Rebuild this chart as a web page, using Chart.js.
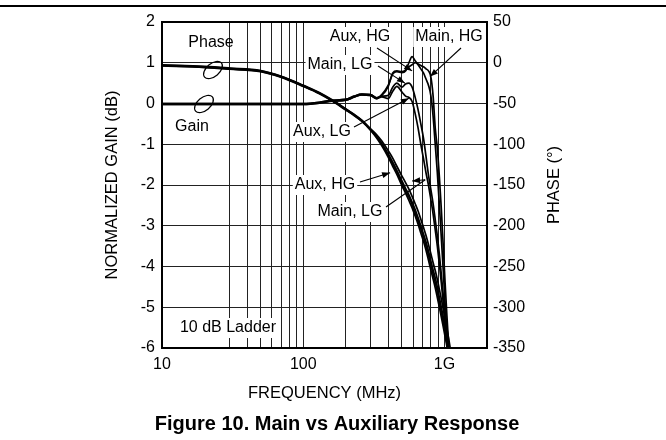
<!DOCTYPE html>
<html>
<head>
<meta charset="utf-8">
<script src="https://cdn.jsdelivr.net/npm/chart.js@4.4.1/dist/chart.umd.min.js"></script>
<style>
  html, body { margin: 0; padding: 0; background: #fff; }
  #wrap { width: 666px; height: 440px; }
</style>
</head>
<body>
<div id="wrap"><canvas id="chart" width="666" height="440"></canvas></div>
<script>
/* ---------- data ---------- */
const freqs = [10, 20, 30, 50, 70, 100, 130, 160, 200, 230, 260, 300, 330, 360, 400, 430, 460, 500, 530, 560,
  590, 620, 650, 680, 710, 740, 770, 800, 830, 860, 890, 920, 950, 980, 1010, 1040, 1070, 1100, 1130];

// normalized gain, dB
const gainMainHG = [0, 0, 0, 0, 0, 0, 0.03, 0.08, 0.1, 0.18, 0.23, 0.22, 0.14, 0.2, 0.42, 0.75, 0.8, 0.78, 0.82, 0.9,
  0.95, 1.0, 0.97, 0.93, 0.9, 0.85, 0.8, 0.66, 0.2, -0.6, -1.1, -1.8, -2.6, -3.5, -4.4, -5.2, -5.9, -6.6, -7.5];
const gainAuxHG = [-0.02, -0.02, -0.02, -0.02, -0.02, -0.02, 0.01, 0.06, 0.08, 0.16, 0.21, 0.2, 0.12, 0.22, 0.45, 0.72, 0.78, 0.76, 0.8, 1.0,
  1.15, 1.05, 0.95, 0.85, 0.75, 0.6, 0.45, 0.2, -0.3, -1.0, -1.7, -2.5, -3.3, -4.1, -4.9, -5.6, -6.3, -7, -8];
const gainMainLG = [0, 0, 0, 0, 0, 0, 0.03, 0.08, 0.1, 0.18, 0.23, 0.22, 0.14, 0.18, 0.2, 0.4, 0.5, 0.4, 0.48, 0.5,
  0.4, 0.15, -0.15, -0.5, -0.85, -1.3, -1.75, -2.1, -2.45, -2.85, -3.25, -3.7, -4.2, -4.7, -5.2, -5.7, -6.2, -6.8, -7.5];
const gainAuxLG = [-0.02, -0.02, -0.02, -0.02, -0.02, -0.02, 0.01, 0.06, 0.08, 0.16, 0.21, 0.2, 0.12, 0.16, 0.12, 0.3, 0.42, 0.28, 0.18, 0.15,
  0.05, -0.25, -0.6, -1.0, -1.35, -1.7, -2.0, -2.35, -2.7, -3.1, -3.5, -3.95, -4.4, -4.9, -5.4, -5.9, -6.4, -7, -7.6];

// phase, degrees
const phaseAuxHG = [-4, -6, -8, -11, -18, -29, -38, -47, -58, -65, -72, -83, -92, -102, -116, -127, -137, -151, -160, -169,
  -178, -188, -198, -209, -219, -230, -242, -254, -265, -276, -288, -300, -312, -324, -336, -348, -360, -374, -388];
const phaseAuxLG = [-3.5, -5.5, -7.5, -10.5, -17.5, -28.5, -37.5, -46.5, -57.5, -64.5, -71.5, -82, -91, -100, -114, -124, -134, -148, -157, -165,
  -174, -184, -194, -204, -214, -225, -236, -248, -259, -270, -281, -294, -306, -318, -330, -342, -354, -368, -382];
const phaseMainHG = [-3, -5, -7, -10, -17, -28, -37, -46, -57, -64, -71, -82, -90, -99, -112, -122, -132, -145, -154, -162,
  -171, -180, -190, -200, -210, -220, -231, -243, -254, -264, -275, -288, -300, -312, -324, -336, -348, -362, -376];
const phaseMainLG = [-2.5, -4.5, -6.5, -9.5, -16.5, -27.5, -36.5, -45.5, -56.5, -63.5, -70.5, -81, -88, -96, -108, -117, -127, -139, -147, -155,
  -164, -173, -182, -192, -202, -212, -223, -234, -245, -255, -266, -278, -290, -302, -314, -326, -338, -351, -365];

// axis ticks
const xGridTicks = [10, 30, 40, 50, 60, 70, 80, 90, 100, 200, 300, 400, 500, 600, 700, 800, 900, 1000, 2000];
const xTickLabels = { 10: "10", 100: "100", 1000: "1G" };

const FONT = '"Liberation Sans", Arial, Helvetica, sans-serif';
const SIZE = 16;
Chart.defaults.font.family = FONT;
Chart.defaults.font.size = SIZE;
Chart.defaults.color = "#000";

function pts(vals) {
  return freqs.map((f, i) => ({ x: f, y: vals[i] }));
}

function line(vals, axis) {
  return {
    data: pts(vals),
    yAxisID: axis,
    borderColor: "#000",
    borderWidth: 1.7,
    pointRadius: 0,
    fill: false,
    cubicInterpolationMode: "monotone"
  };
}

/* ---------- drawing helpers ---------- */
function text(ctx, s, x, y) {
  ctx.font = SIZE + "px " + FONT;
  ctx.textAlign = "center";
  ctx.textBaseline = "middle";
  ctx.fillStyle = "#000";
  ctx.fillText(s, x, y);
}

function arrow(ctx, x1, y1, x2, y2, head) {
  ctx.strokeStyle = "#000";
  ctx.lineWidth = 1.1;
  ctx.beginPath();
  ctx.moveTo(x1, y1);
  ctx.lineTo(x2, y2);
  ctx.stroke();
  if (!head) return;
  const a = Math.atan2(y2 - y1, x2 - x1);
  ctx.fillStyle = "#000";
  ctx.beginPath();
  ctx.moveTo(x2, y2);
  ctx.lineTo(x2 - 8 * Math.cos(a) + 3 * Math.sin(a), y2 - 8 * Math.sin(a) - 3 * Math.cos(a));
  ctx.lineTo(x2 - 8 * Math.cos(a) - 3 * Math.sin(a), y2 - 8 * Math.sin(a) + 3 * Math.cos(a));
  ctx.closePath();
  ctx.fill();
}

function oval(ctx, cx, cy, rx, ry, rot) {
  ctx.strokeStyle = "#000";
  ctx.lineWidth = 1.2;
  ctx.beginPath();
  ctx.ellipse(cx, cy, rx, ry, rot, 0, Math.PI * 2);
  ctx.stroke();
}

// labels that sit on a white patch over the grid
const boxedLabels = [
  ["10 dB Ladder", 228, 328],
  ["Aux, HG", 360, 37],
  ["Main, HG", 449, 37],
  ["Main, LG", 340, 65],
  ["Aux, LG", 322, 132],
  ["Aux, HG", 325, 185],
  ["Main, LG", 350, 212]
];

const decor = {
  id: "decor",
  beforeDraw(chart) {
    const ctx = chart.ctx;
    ctx.save();
    ctx.fillStyle = "#fff";
    ctx.fillRect(0, 0, chart.width, chart.height);
    ctx.restore();
  },
  beforeDatasetsDraw(chart) {
    const ctx = chart.ctx;
    ctx.save();
    ctx.font = SIZE + "px " + FONT;
    ctx.fillStyle = "#fff";
    boxedLabels.forEach(([s, x, y]) => {
      const w = ctx.measureText(s).width;
      ctx.fillRect(x - w / 2 - 2, y - 10, w + 4, 20);
    });
    ctx.restore();
  },
  afterDatasetsDraw(chart) {
    const ctx = chart.ctx;
    const a = chart.chartArea;
    const sx = chart.scales.x, sg = chart.scales.y, sp = chart.scales.y2;
    const X = f => sx.getPixelForValue(f);
    const G = v => sg.getPixelForValue(v);
    const P = v => sp.getPixelForValue(v);
    ctx.save();

    // frame
    ctx.strokeStyle = "#000";
    ctx.lineWidth = 2;
    ctx.strokeRect(a.left, a.top, a.right - a.left, a.bottom - a.top);

    // rule at top of page
    ctx.beginPath();
    ctx.moveTo(0, 6);
    ctx.lineTo(chart.width, 6);
    ctx.stroke();

    // annotations
    text(ctx, "Phase", 211, 43);
    text(ctx, "Gain", 192, 127);
    boxedLabels.forEach(([s, x, y]) => text(ctx, s, x, y));

    oval(ctx, 213, 70, 11, 6.5, -0.7);
    oval(ctx, 204, 104, 11, 6.5, -0.7);

    arrow(ctx, 377, 48, X(590), G(0.8), true);
    arrow(ctx, 461, 48, X(790), G(0.66), true);
    arrow(ctx, 378, 66, X(525), G(0.5), true);
    arrow(ctx, 354, 127, X(560), G(0.13), true);
    arrow(ctx, 360, 182, X(412), P(-135), true);
    arrow(ctx, 386, 207, X(730), G(-1.87), false);
    arrow(ctx, X(730), G(-1.87), X(590), G(-1.9), true);

    // axis titles and caption
    ctx.fillStyle = "#000";
    ctx.textAlign = "center";
    ctx.textBaseline = "middle";
    ctx.font = "16.5px " + FONT;
    ctx.fillText("FREQUENCY (MHz)", (a.left + a.right) / 2, 393);

    ctx.save();
    ctx.translate(112, (a.top + a.bottom) / 2);
    ctx.rotate(-Math.PI / 2);
    ctx.fillText("NORMALIZED GAIN (dB)", 0, 0);
    ctx.restore();

    ctx.save();
    ctx.translate(554, (a.top + a.bottom) / 2);
    ctx.rotate(-Math.PI / 2);
    ctx.fillText("PHASE (°)", 0, 0);
    ctx.restore();

    ctx.font = "bold 20px " + FONT;
    ctx.fillText("Figure 10. Main vs Auxiliary Response", 337, 424);
    ctx.restore();
  }
};

new Chart(document.getElementById("chart"), {
  type: "line",
  data: {
    datasets: [
      line(gainMainHG, "y"),
      line(gainAuxHG, "y"),
      line(gainMainLG, "y"),
      line(gainAuxLG, "y"),
      line(phaseAuxHG, "y2"),
      line(phaseAuxLG, "y2"),
      line(phaseMainHG, "y2"),
      line(phaseMainLG, "y2")
    ]
  },
  options: {
    responsive: false,
    animation: false,
    devicePixelRatio: 1,
    layout: { padding: { top: 22, left: 0, right: 0, bottom: 0 } },
    plugins: { legend: { display: false }, tooltip: { enabled: false }, title: { display: false } },
    scales: {
      x: {
        type: "logarithmic",
        min: 10,
        max: 2000,
        afterBuildTicks: s => { s.ticks = xGridTicks.map(v => ({ value: v })); },
        afterFit: s => { s.height = 92; },
        grid: { color: "#222", lineWidth: 1, drawTicks: false },
        border: { display: false },
        ticks: {
          autoSkip: false,
          maxRotation: 0,
          padding: 7,
          callback: v => xTickLabels[v] || ""
        }
      },
      y: {
        position: "left",
        min: -6,
        max: 2,
        afterFit: s => { s.width = 162; },
        grid: { color: "#222", lineWidth: 1, drawTicks: false },
        border: { display: false },
        ticks: { stepSize: 1, padding: 7 }
      },
      y2: {
        position: "right",
        min: -350,
        max: 50,
        afterFit: s => { s.width = 179; },
        grid: { display: false, drawTicks: false },
        border: { display: false },
        ticks: { stepSize: 50, padding: 6 }
      }
    }
  },
  plugins: [decor]
});
</script>
</body>
</html>
